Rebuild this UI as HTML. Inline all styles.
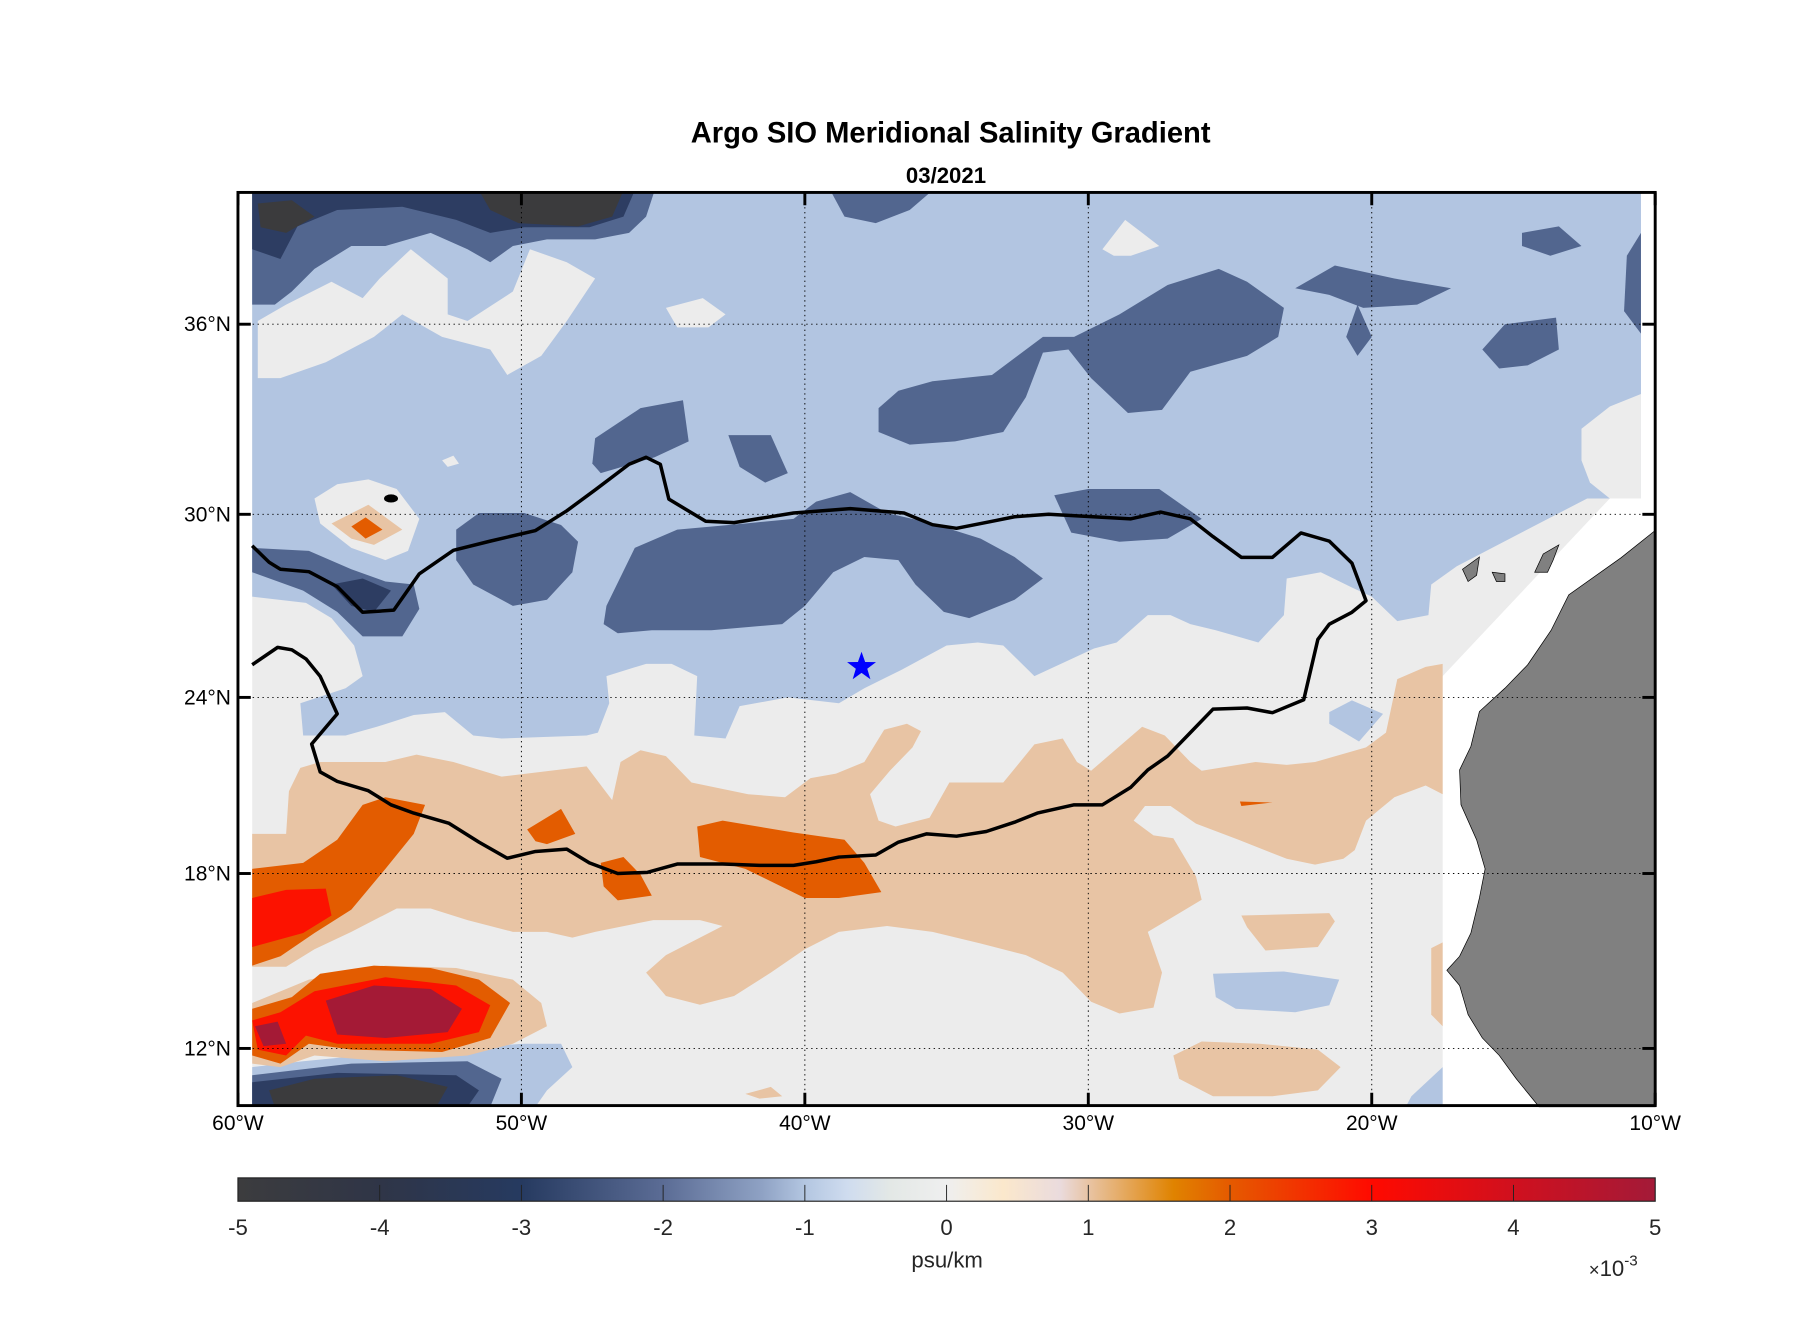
<!DOCTYPE html>
<html><head><meta charset="utf-8"><title>Argo SIO Meridional Salinity Gradient</title>
<style>html,body{margin:0;padding:0;background:#fff;}svg{display:block;}</style></head>
<body>
<svg id="chart" width="1808" height="1333" viewBox="0 0 1550 1143" preserveAspectRatio="none" xmlns="http://www.w3.org/2000/svg" font-family="'Liberation Sans', Arial, sans-serif">
<defs>
<clipPath id="plotclip"><rect x="204" y="165" width="1215" height="783"/></clipPath>
<linearGradient id="cbgrad" x1="0" x2="1" y1="0" y2="0">
<stop offset="0" stop-color="#3c3c3e"/>
<stop offset="0.1" stop-color="#2f3547"/>
<stop offset="0.2" stop-color="#263a60"/>
<stop offset="0.3" stop-color="#5b6c95"/>
<stop offset="0.37" stop-color="#8fa2c4"/>
<stop offset="0.4" stop-color="#b3c6e1"/>
<stop offset="0.43" stop-color="#cfdcef"/>
<stop offset="0.46" stop-color="#e3e8e6"/>
<stop offset="0.5" stop-color="#efefef"/>
<stop offset="0.54" stop-color="#fbe8cc"/>
<stop offset="0.58" stop-color="#eadbdd"/>
<stop offset="0.6" stop-color="#e8c4a4"/>
<stop offset="0.66" stop-color="#e08300"/>
<stop offset="0.7" stop-color="#e55a00"/>
<stop offset="0.8" stop-color="#ff0a00"/>
<stop offset="0.9" stop-color="#d0101e"/>
<stop offset="1" stop-color="#a31a38"/>
</linearGradient>
</defs>
<g id="fills" clip-path="url(#plotclip)"></g>
<g id="overlay"></g>
<text x="815" y="122" text-anchor="middle" font-size="25" font-weight="bold">Argo SIO Meridional Salinity Gradient</text>
<text x="811" y="157" text-anchor="middle" font-size="19" font-weight="bold">03/2021</text>
<g id="cbar"></g>
</svg>
<script>
// ---- axis data ----
const lonTicks = [-60,-50,-40,-30,-20,-10];
const lonTickLabels = ["60°W","50°W","40°W","30°W","20°W","10°W"];
const latTicks = [12,18,24,30,36];
const latTickLabels = ["12°N","18°N","24°N","30°N","36°N"];
const cbTicks = [-5,-4,-3,-2,-1,0,1,2,3,4,5];
const cbTickLabels = ["-5","-4","-3","-2","-1","0","1","2","3","4","5"];
// ---- contour region data (lon, lat) ----
const domainRegion = [[-59.5,40.1],[-10.5,40.1],[-10.5,30.5],[-11.6,30.5],[-17.5,24.7],[-17.5,10],[-59.5,10]];
const blueRegion = [[-59.5,40.1],[-10.5,40.1],[-10.5,30.5],[-12.4,30.5],[-17.0,28.3],[-17.9,27.7],[-18.0,26.7],[-19.1,26.5],[-20.0,27.3],[-20.7,27.6],[-21.8,28.1],[-23.0,27.9],[-23.1,26.7],[-24.0,25.8],[-25.5,26.2],[-26.4,26.4],[-27.1,26.7],[-27.9,26.7],[-29.0,25.8],[-29.8,25.6],[-30.5,25.3],[-31.9,24.7],[-33.0,25.7],[-33.9,25.8],[-35.0,25.7],[-36.6,24.9],[-37.9,24.3],[-38.8,23.8],[-40.6,24.0],[-42.3,23.7],[-42.8,22.6],[-43.9,22.7],[-43.8,24.7],[-44.7,25.1],[-45.6,25.1],[-47.0,24.7],[-46.9,23.8],[-47.3,22.8],[-47.7,22.7],[-50.7,22.6],[-51.7,22.7],[-52.7,23.5],[-53.8,23.4],[-55.1,23.0],[-56.2,22.7],[-57.7,22.7],[-57.8,23.8],[-56.2,24.3],[-55.6,24.7],[-55.9,25.7],[-56.7,26.6],[-57.6,27.1],[-59.5,27.3]];
const grayPatches = [
 [[-12.6,32.7],[-11.6,33.4],[-10.5,33.8],[-10.5,30.5],[-11.6,30.5],[-12.3,31.0],[-12.6,31.7]],
 [[-59.3,36.1],[-58.3,36.6],[-56.7,37.3],[-55.6,36.8],[-55.0,37.4],[-53.9,38.3],[-52.6,37.4],[-52.6,36.3],[-51.9,36.1],[-50.3,37.0],[-49.7,38.3],[-48.4,37.9],[-47.4,37.4],[-48.4,36.1],[-49.3,35.0],[-50.5,34.4],[-51.1,35.2],[-52.8,35.6],[-54.2,36.3],[-55.2,35.6],[-56.9,34.8],[-58.5,34.3],[-59.3,34.3]],
 [[-44.9,36.5],[-43.6,36.8],[-42.8,36.3],[-43.4,35.9],[-44.5,35.9]],
 [[-29.5,38.3],[-28.7,39.2],[-27.5,38.4],[-28.5,38.1],[-29.1,38.1]],
 [[-57.3,30.5],[-56.5,30.95],[-55.4,31.1],[-54.4,30.8],[-53.6,29.85],[-54.0,28.8],[-54.8,28.5],[-56.0,28.9],[-57.1,29.7]],
 [[-52.8,31.7],[-52.4,31.85],[-52.2,31.6],[-52.6,31.5]]
];
const darkBlueRegions = [
 [[-59.5,40.1],[-45.3,40.1],[-45.6,39.3],[-46.2,38.8],[-47.4,38.6],[-49.1,38.6],[-50.3,38.4],[-51.1,37.9],[-51.9,38.3],[-53.2,38.8],[-54.8,38.4],[-56.0,38.4],[-57.3,37.7],[-58.1,37.0],[-58.7,36.6],[-59.5,36.6]],
 [[-39.1,40.1],[-35.5,40.1],[-36.3,39.5],[-37.5,39.1],[-38.6,39.3]],
 [[-14.7,38.8],[-13.4,39.0],[-12.6,38.4],[-13.7,38.1],[-14.7,38.4]],
 [[-11.0,38.1],[-10.5,38.8],[-10.5,35.7],[-11.1,36.4]],
 [[-22.7,37.1],[-21.3,37.8],[-19.2,37.4],[-17.2,37.1],[-18.4,36.6],[-20.3,36.5],[-21.5,36.9]],
 [[-20.5,36.6],[-20.0,35.6],[-20.5,35.0],[-20.9,35.6]],
 [[-16.1,35.2],[-15.3,36.0],[-13.5,36.2],[-13.4,35.2],[-14.5,34.7],[-15.5,34.6]],
 [[-37.4,33.35],[-36.7,33.9],[-35.5,34.2],[-33.4,34.4],[-31.6,35.6],[-30.5,35.6],[-28.9,36.3],[-27.2,37.2],[-25.4,37.7],[-24.4,37.3],[-23.1,36.5],[-23.3,35.6],[-24.4,35.0],[-26.4,34.5],[-27.4,33.3],[-28.6,33.2],[-29.9,34.3],[-30.7,35.2],[-31.6,35.1],[-32.2,33.7],[-33.0,32.6],[-34.7,32.3],[-36.3,32.2],[-37.4,32.6]],
 [[-47.4,32.4],[-45.8,33.35],[-44.3,33.6],[-44.1,32.3],[-45.3,31.8],[-47.2,31.3],[-47.5,31.6]],
 [[-42.7,32.5],[-41.2,32.5],[-40.6,31.3],[-41.4,31.0],[-42.3,31.5]],
 [[-31.2,30.6],[-30.0,30.8],[-27.5,30.8],[-26.0,29.85],[-27.2,29.2],[-28.9,29.1],[-30.6,29.4]],
 [[-52.3,29.5],[-51.5,30.04],[-49.9,30.04],[-48.6,29.65],[-48.0,29.1],[-48.2,28.1],[-49.1,27.2],[-50.3,27.0],[-51.7,27.7],[-52.3,28.5]],
 [[-47.0,27.0],[-46.0,28.9],[-44.5,29.5],[-42.1,29.7],[-40.4,29.85],[-39.6,30.4],[-38.4,30.7],[-37.1,30.04],[-35.5,29.7],[-33.8,29.2],[-32.6,28.6],[-31.6,27.9],[-32.6,27.2],[-34.2,26.6],[-35.1,26.8],[-36.1,27.7],[-36.7,28.5],[-37.9,28.6],[-39.0,28.1],[-40.0,27.0],[-40.8,26.4],[-43.3,26.2],[-45.4,26.2],[-46.6,26.1],[-47.1,26.4]],
 [[-59.5,28.9],[-57.5,28.8],[-56.0,28.2],[-54.8,27.8],[-53.8,27.7],[-53.6,26.9],[-54.2,26.0],[-55.6,26.0],[-56.5,26.8],[-57.7,27.5],[-59.5,28.1]]
];
const navyRegions = [
 [[-59.5,40.1],[-46.0,40.1],[-46.4,39.3],[-47.6,38.97],[-49.9,38.97],[-51.1,38.8],[-52.3,39.2],[-54.2,39.6],[-56.5,39.5],[-57.9,39.0],[-58.5,38.0],[-59.5,38.3]],
 [[-56.7,27.7],[-55.6,27.9],[-54.6,27.5],[-55.2,26.8],[-56.0,27.0]]
];
const darkestRegions = [
 [[-51.5,40.1],[-46.4,40.1],[-46.8,39.3],[-48.0,39.0],[-50.1,39.1],[-51.1,39.5]],
 [[-59.3,39.7],[-58.1,39.8],[-57.3,39.3],[-58.3,38.8],[-59.2,38.97]]
];
const bottomBlue = [[-59.5,11.36],[-57.7,11.56],[-54.8,11.84],[-51.9,12.04],[-49.9,12.16],[-48.6,12.16],[-48.2,11.36],[-49.1,10.56],[-49.5,10],[-59.5,10]];
const bottomDarkBlue = [[-59.5,11.08],[-56.0,11.48],[-51.9,11.56],[-50.7,10.96],[-51.1,10],[-59.5,10]];
const bottomNavy = [[-59.5,10.84],[-56.5,11.16],[-52.3,11.08],[-51.5,10.56],[-51.9,10],[-59.5,10]];
const bottomDarkest = [[-58.9,10.56],[-57.3,10.96],[-54.4,11.08],[-52.6,10.68],[-53.0,10],[-58.7,10]];
const lightBluePatches = [
 [[-21.5,23.5],[-20.7,23.9],[-19.6,23.44],[-20.45,22.5],[-21.5,23.1]],
 [[-25.6,14.56],[-23.1,14.64],[-21.15,14.36],[-21.5,13.48],[-22.7,13.24],[-24.8,13.36],[-25.5,13.76]],
 [[-18.6,10.36],[-17.5,11.36],[-17.5,10],[-18.8,10]]
];
const lightOrangeRegions = [
 [[-59.5,19.35],[-58.3,19.35],[-58.2,20.8],[-57.8,21.6],[-57.1,21.8],[-54.8,21.8],[-53.7,22.05],[-52.4,21.8],[-50.7,21.3],[-47.7,21.65],[-46.8,20.5],[-46.5,21.8],[-45.8,22.2],[-44.9,22.0],[-44.0,21.1],[-42.0,20.7],[-40.7,20.6],[-39.8,21.25],[-38.9,21.4],[-37.9,21.8],[-37.2,22.9],[-36.4,23.1],[-35.9,22.85],[-36.2,22.3],[-37.0,21.5],[-37.7,20.7],[-37.4,19.8],[-36.8,19.6],[-35.6,19.9],[-34.9,21.1],[-33.0,21.1],[-31.9,22.4],[-30.9,22.6],[-30.4,21.8],[-29.9,21.5],[-28.1,23.0],[-27.3,22.7],[-26.4,21.8],[-26.0,21.5],[-24.1,21.8],[-23.0,21.7],[-22.0,21.8],[-20.2,22.3],[-19.5,22.8],[-19.1,24.6],[-18.1,25.0],[-17.5,25.1],[-17.5,20.7],[-18.1,21.0],[-19.2,20.6],[-20.2,19.8],[-20.6,18.8],[-21.0,18.5],[-22.0,18.3],[-23.0,18.5],[-24.7,19.15],[-26.2,19.7],[-27.1,20.3],[-28.0,20.3],[-28.4,19.8],[-27.7,19.3],[-27.0,19.2],[-26.2,17.9],[-26.0,17.1],[-27.2,16.4],[-27.9,16.0],[-27.4,14.6],[-27.7,13.4],[-28.9,13.2],[-29.9,13.6],[-30.9,14.6],[-32.2,15.2],[-33.8,15.6],[-35.5,16.0],[-37.1,16.2],[-38.8,16.0],[-40.0,15.4],[-41.2,14.6],[-42.5,13.8],[-43.7,13.5],[-44.9,13.8],[-45.6,14.6],[-44.9,15.2],[-43.7,15.8],[-42.9,16.2],[-43.7,16.4],[-45.35,16.4],[-47.4,16.0],[-48.2,15.8],[-49.1,16.0],[-50.3,16.0],[-51.9,16.4],[-53.2,16.8],[-54.4,16.8],[-56.0,16.0],[-57.3,15.4],[-58.3,14.8],[-59.5,14.8]],
 [[-56.7,29.7],[-55.4,30.3],[-54.2,29.5],[-55.2,29.0],[-56.0,29.2]],
 [[-59.5,13.56],[-57.5,14.36],[-54.8,14.84],[-52.3,14.76],[-50.3,14.36],[-49.3,13.56],[-49.1,12.76],[-50.3,12.16],[-51.9,11.76],[-54.8,11.56],[-57.3,11.76],[-58.5,11.36],[-59.5,11.48]],
 [[-27.0,11.76],[-26.0,12.24],[-23.95,12.16],[-21.9,11.96],[-21.1,11.36],[-21.9,10.56],[-23.5,10.36],[-25.6,10.36],[-26.8,10.96]],
 [[-24.6,16.56],[-21.5,16.64],[-21.3,16.36],[-21.9,15.48],[-23.75,15.36],[-24.4,16.16]],
 [[-17.9,15.44],[-17.5,15.64],[-17.5,12.76],[-17.9,13.16]],
 [[-42.1,10.44],[-41.2,10.68],[-40.8,10.36],[-41.6,10.28]]
];
const orangeRegions = [
 [[-59.5,18.16],[-57.7,18.36],[-56.5,19.15],[-55.6,20.34],[-54.8,20.6],[-53.4,20.34],[-53.8,19.35],[-54.8,18.16],[-56.0,16.76],[-57.3,15.96],[-58.5,15.16],[-59.5,14.84]],
 [[-56.0,29.6],[-55.5,29.9],[-54.9,29.5],[-55.5,29.2]],
 [[-49.8,19.5],[-48.6,20.2],[-48.1,19.35],[-49.1,19.0],[-49.5,19.1]],
 [[-47.2,18.36],[-46.4,18.56],[-45.8,17.96],[-45.4,17.24],[-46.6,17.08],[-47.1,17.56]],
 [[-43.8,19.6],[-42.9,19.8],[-40.4,19.4],[-38.6,19.15],[-37.9,18.36],[-37.3,17.36],[-38.8,17.16],[-40.0,17.16],[-42.1,18.16],[-43.7,18.56]],
 [[-24.65,20.45],[-23.5,20.42],[-24.6,20.3]],
 [[-59.5,13.36],[-58.1,13.76],[-57.1,14.56],[-55.2,14.84],[-53.2,14.76],[-51.5,14.36],[-50.4,13.56],[-51.1,12.36],[-52.8,11.88],[-56.0,11.96],[-57.5,12.16],[-58.5,11.48],[-59.5,11.76]]
];
const redRegions = [
 [[-59.5,17.16],[-58.3,17.44],[-56.9,17.48],[-56.7,16.56],[-57.7,15.96],[-59.5,15.48]],
 [[-59.5,12.96],[-58.5,13.24],[-57.3,13.96],[-54.8,14.44],[-52.3,14.16],[-51.1,13.48],[-51.5,12.56],[-53.2,12.16],[-56.5,12.16],[-57.6,12.44],[-58.3,11.76],[-59.3,11.96]]
];
const crimsonRegions = [
 [[-56.9,13.64],[-55.2,14.16],[-53.2,14.04],[-52.1,13.36],[-52.6,12.56],[-54.8,12.36],[-56.5,12.48]],
 [[-59.4,12.76],[-58.6,12.92],[-58.3,12.16],[-59.1,12.08]]
];
const landCoast = [[-10,29.47],[-11.2,28.58],[-13.05,27.36],[-13.67,26.2],[-14.5,25.07],[-15.3,24.3],[-16.2,23.52],[-16.5,22.33],[-16.9,21.53],[-16.85,20.34],[-16.3,19.15],[-16.0,18.16],[-16.2,17.16],[-16.5,15.96],[-16.9,15.16],[-17.35,14.68],[-16.9,14.16],[-16.6,13.16],[-16.1,12.36],[-15.5,11.76],[-14.9,10.96],[-14.4,10.36],[-14.1,10.0],[-10,10.0]];
const islands = [
 [[-16.8,28.2],[-16.2,28.6],[-16.3,28.0],[-16.6,27.8]],
 [[-15.75,28.1],[-15.3,28.05],[-15.3,27.8],[-15.6,27.8]],
 [[-14.25,28.1],[-13.95,28.7],[-13.4,29.0],[-13.6,28.5],[-13.8,28.1]]
];
const isohalineLine = [[-59.5,28.97],[-58.9,28.43],[-58.5,28.2],[-57.5,28.12],[-56.5,27.63],[-55.6,26.79],[-54.5,26.86],[-53.6,28.05],[-52.4,28.82],[-51.1,29.12],[-49.5,29.47],[-48.4,30.11],[-47.4,30.77],[-46.2,31.58],[-45.6,31.8],[-45.1,31.58],[-44.8,30.48],[-43.5,29.77],[-42.5,29.73],[-40.4,30.04],[-38.4,30.18],[-36.5,30.04],[-35.5,29.66],[-34.65,29.54],[-33.4,29.77],[-32.6,29.92],[-31.4,30.0],[-28.5,29.85],[-27.45,30.07],[-26.4,29.85],[-25.6,29.27],[-24.6,28.59],[-23.5,28.59],[-22.5,29.39],[-21.5,29.12],[-20.7,28.4],[-20.2,27.17],[-20.7,26.79],[-21.5,26.4],[-21.9,25.9],[-22.4,23.92],[-23.5,23.48],[-24.4,23.64],[-25.6,23.6],[-26.4,22.8],[-27.2,22.0],[-27.9,21.53],[-28.5,20.94],[-29.5,20.34],[-30.5,20.34],[-31.8,20.06],[-32.6,19.75],[-33.6,19.43],[-34.65,19.27],[-35.7,19.35],[-36.7,19.07],[-37.5,18.63],[-38.8,18.56],[-39.6,18.4],[-40.4,18.28],[-41.6,18.28],[-42.9,18.32],[-43.7,18.32],[-44.5,18.32],[-45.55,18.04],[-46.6,18.0],[-47.6,18.36],[-48.4,18.83],[-49.5,18.75],[-50.5,18.52],[-51.5,19.07],[-52.55,19.71],[-53.8,20.06],[-54.6,20.34],[-55.4,20.82],[-56.5,21.14],[-57.1,21.46],[-57.4,22.41],[-56.5,23.44],[-57.1,24.69],[-57.6,25.26],[-58.1,25.56],[-58.6,25.64],[-59.5,25.07]];
const starLon = -38.0, starLat = 25.0;
const blackDot = [-54.6, 30.5];

// ---- axes ----
const X0=204, X1=1419, Y0=165, Y1=948;
const LON_MIN=-60, LON_MAX=-10;
const latKnots=[10,12,18,24,30,36,40.04];
const yKnots=[949,899,749,598,441,278,165];
function xScale(lon){return X0+(lon-LON_MIN)/(LON_MAX-LON_MIN)*(X1-X0);}
function yScale(lat){
  if(lat<=latKnots[0]) return yKnots[0]+(latKnots[0]-lat)*25;
  for(let i=0;i<latKnots.length-1;i++){
    if(lat<=latKnots[i+1]){const t=(lat-latKnots[i])/(latKnots[i+1]-latKnots[i]);return yKnots[i]+t*(yKnots[i+1]-yKnots[i]);}
  }
  return yKnots[yKnots.length-1]-(lat-latKnots[latKnots.length-1])*28;
}
const CB_X0=204, CB_X1=1419, CB_Y0=1010, CB_Y1=1030;
function cbScale(v){return CB_X0+(v+5)/10*(CB_X1-CB_X0);}

const NS='http://www.w3.org/2000/svg';
function mk(tag,parent){const e=document.createElementNS(NS,tag);parent.appendChild(e);return e;}
function pathOf(poly,close){return poly.map((p,i)=>(i?'L':'M')+xScale(p[0]).toFixed(1)+','+yScale(p[1]).toFixed(1)).join('')+(close?'Z':'');}
const fills=document.getElementById('fills');
function drawPolys(list,color,name){
  list.forEach(poly=>{
    const p=mk('path',fills);
    p.setAttribute('d',pathOf(poly,true));
    p.setAttribute('fill',color);
    
    
  });
}
drawPolys([domainRegion],'#ececec','contour-near-zero');
drawPolys([blueRegion],'#b2c5e1','contour-minus-1');
drawPolys(grayPatches,'#ececec','contour-near-zero');
drawPolys(darkBlueRegions,'#52668f','contour-minus-2');
drawPolys(navyRegions,'#2d3d62','contour-minus-3');
drawPolys(darkestRegions,'#3b3b3d','contour-minus-4');
drawPolys([bottomBlue],'#b2c5e1','contour-minus-1');
drawPolys([bottomDarkBlue],'#52668f','contour-minus-2');
drawPolys([bottomNavy],'#2d3d62','contour-minus-3');
drawPolys([bottomDarkest],'#3b3b3d','contour-minus-4');
drawPolys(lightOrangeRegions,'#e8c4a4','contour-plus-1');
drawPolys(orangeRegions,'#e35c00','contour-plus-2');
drawPolys(redRegions,'#fc1200','contour-plus-3');
drawPolys(crimsonRegions,'#a41a36','contour-plus-4');
drawPolys(lightBluePatches,'#b2c5e1','contour-minus-1');

const ov=document.getElementById('overlay');
// land
{const p=mk('path',ov);p.setAttribute('d',pathOf(landCoast,true));p.setAttribute('fill','#808080');p.setAttribute('stroke','#000');p.setAttribute('stroke-width','0.6');

}
islands.forEach(isl=>{const p=mk('path',ov);p.setAttribute('d',pathOf(isl,true));p.setAttribute('fill','#808080');p.setAttribute('stroke','#000');p.setAttribute('stroke-width','0.6');

});
// grid
lonTicks.forEach(lon=>{if(lon===LON_MIN||lon===LON_MAX)return;const l=mk('line',ov);l.setAttribute('x1',xScale(lon));l.setAttribute('x2',xScale(lon));l.setAttribute('y1',Y0);l.setAttribute('y2',Y1);l.setAttribute('stroke','#000');l.setAttribute('stroke-width','0.8');l.setAttribute('stroke-dasharray','1.2,3');

});
latTicks.forEach(lat=>{const l=mk('line',ov);l.setAttribute('x1',X0);l.setAttribute('x2',X1);l.setAttribute('y1',yScale(lat));l.setAttribute('y2',yScale(lat));l.setAttribute('stroke','#000');l.setAttribute('stroke-width','0.8');l.setAttribute('stroke-dasharray','1.2,3');

});
// isohaline
{const p=mk('path',ov);p.setAttribute('d',pathOf(isohalineLine,false));p.setAttribute('fill','none');p.setAttribute('stroke','#000');p.setAttribute('stroke-width','3');p.setAttribute('stroke-linejoin','round');

}
{const e=mk('ellipse',ov);e.setAttribute('cx',xScale(blackDot[0]));e.setAttribute('cy',yScale(blackDot[1]));e.setAttribute('rx',6);e.setAttribute('ry',3.5);e.setAttribute('fill','#000');

}
// star
{const cx=xScale(starLon),cy=yScale(starLat),R=13,r=5.2;let pts=[];for(let i=0;i<10;i++){const a=-Math.PI/2+i*Math.PI/5;const rr=i%2?r:R;pts.push((cx+rr*Math.cos(a)).toFixed(1)+','+(cy+rr*Math.sin(a)).toFixed(1));}
const s=mk('polygon',ov);s.setAttribute('points',pts.join(' '));s.setAttribute('fill','#0000ff');

}
// frame & ticks
{const r=mk('rect',ov);r.setAttribute('x',X0);r.setAttribute('y',Y0);r.setAttribute('width',X1-X0);r.setAttribute('height',Y1-Y0);r.setAttribute('fill','none');r.setAttribute('stroke','#000');r.setAttribute('stroke-width','2.5');

}
lonTicks.forEach((lon,i)=>{
  const x=xScale(lon);
  [[Y0,Y0+11],[Y1,Y1-11]].forEach(([a,b])=>{const l=mk('line',ov);l.setAttribute('x1',x);l.setAttribute('x2',x);l.setAttribute('y1',a);l.setAttribute('y2',b);l.setAttribute('stroke','#000');l.setAttribute('stroke-width','2.5');
  
  });
  const t=mk('text',ov);t.setAttribute('x',x);t.setAttribute('y',969);t.setAttribute('text-anchor','middle');t.setAttribute('font-size','18');t.textContent=lonTickLabels[i];
  
  
});
latTicks.forEach((lat,i)=>{
  const y=yScale(lat);
  [[X0,X0+11],[X1,X1-11]].forEach(([a,b])=>{const l=mk('line',ov);l.setAttribute('x1',a);l.setAttribute('x2',b);l.setAttribute('y1',y);l.setAttribute('y2',y);l.setAttribute('stroke','#000');l.setAttribute('stroke-width','2.5');
  
  });
  const t=mk('text',ov);t.setAttribute('x',198);t.setAttribute('y',y+6);t.setAttribute('text-anchor','end');t.setAttribute('font-size','18');t.textContent=latTickLabels[i];
  
  
});
// colorbar
const cb=document.getElementById('cbar');
{const r=mk('rect',cb);r.setAttribute('x',CB_X0);r.setAttribute('y',CB_Y0);r.setAttribute('width',CB_X1-CB_X0);r.setAttribute('height',CB_Y1-CB_Y0);r.setAttribute('fill','url(#cbgrad)');r.setAttribute('stroke','#222');r.setAttribute('stroke-width','1');

}
cbTicks.forEach((v,i)=>{
  const x=cbScale(v);
  if(i>0&&i<cbTicks.length-1){const l=mk('line',cb);l.setAttribute('x1',x);l.setAttribute('x2',x);l.setAttribute('y1',CB_Y0+6);l.setAttribute('y2',CB_Y1);l.setAttribute('stroke','#222');l.setAttribute('stroke-width','0.8');
  
  }
  const t=mk('text',cb);t.setAttribute('x',x);t.setAttribute('y',1059);t.setAttribute('text-anchor','middle');t.setAttribute('font-size','19');t.setAttribute('fill','#262626');t.textContent=cbTickLabels[i];
  
  
});
{const t=mk('text',cb);t.setAttribute('x',812);t.setAttribute('y',1087);t.setAttribute('text-anchor','middle');t.setAttribute('font-size','19');t.setAttribute('fill','#262626');t.textContent='psu/km';

}
{const t=mk('text',cb);t.setAttribute('x',1362);t.setAttribute('y',1094);t.setAttribute('font-size','19');t.setAttribute('fill','#262626');t.innerHTML='<tspan font-size="16">×</tspan>10<tspan dy="-9" font-size="13">-3</tspan>';

}
</script>
</body></html>
